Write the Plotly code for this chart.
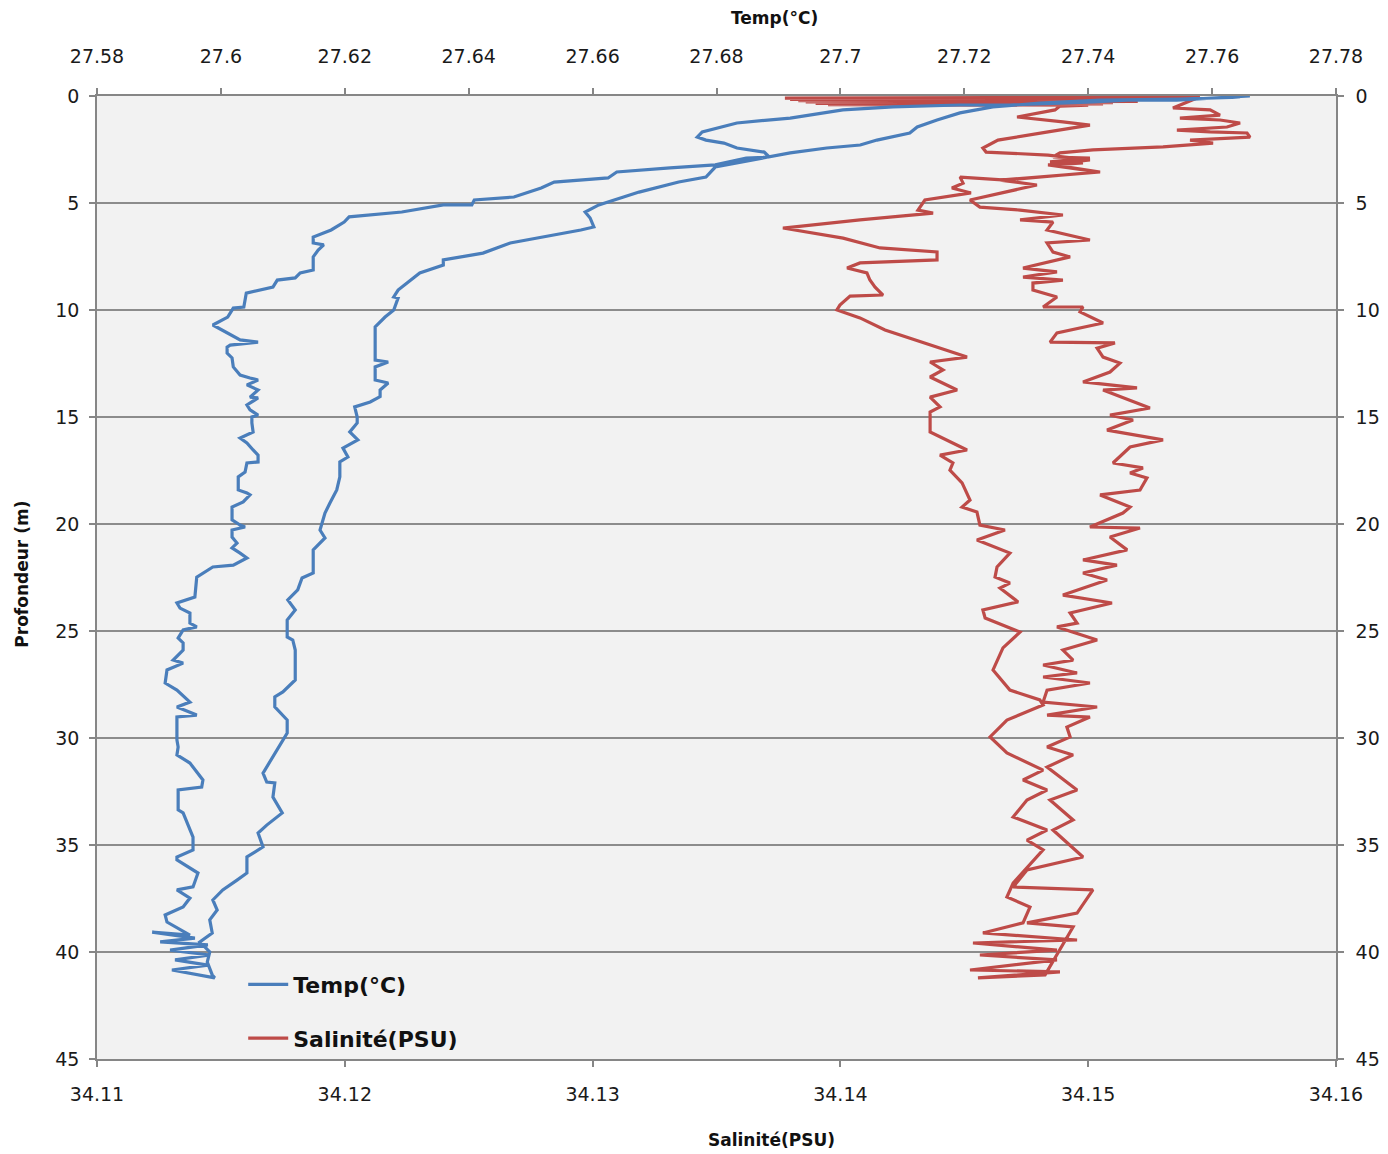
import plotly.graph_objects as go

# ---------------- data ----------------
depth_ticks = [0, 5, 10, 15, 20, 25, 30, 35, 40, 45]
temp_ticks = [27.58, 27.6, 27.62, 27.64, 27.66, 27.68, 27.7, 27.72, 27.74, 27.76, 27.78]
sal_ticks = [34.11, 34.12, 34.13, 34.14, 34.15, 34.16]

temp_depth = [
    0.00, 0.09, 0.19, 0.19, 0.28, 0.33, 0.42, 0.42, 0.51, 0.65, 0.89, 1.03, 1.26, 1.68, 1.92,
    2.06, 2.20, 2.43, 2.62, 2.85, 2.90, 3.22, 3.36, 3.55, 3.83, 4.02, 4.30, 4.72, 4.86, 5.09,
    5.09, 5.42, 5.65, 5.89, 6.26, 6.59, 6.87, 6.96, 7.20, 7.52, 8.13, 8.27, 8.50, 8.60, 8.93,
    9.21, 9.86, 9.91, 10.33, 10.70, 11.40, 11.50, 11.64, 11.73, 12.01, 12.24, 12.66, 13.04,
    13.18, 13.27, 13.50, 13.74, 14.07, 14.11, 14.44, 14.67, 14.91, 15.00, 15.28, 15.70, 15.98,
    16.21, 16.54, 16.78, 17.10, 17.15, 17.57, 17.80, 18.41, 18.55, 18.64, 18.97, 19.21, 19.81,
    20.05, 20.14, 20.28, 20.61, 20.89, 21.12, 21.36, 21.59, 21.92, 22.01, 22.48, 23.41, 23.69,
    23.93, 24.16, 24.63, 24.81, 24.95, 25.33, 25.56, 25.89, 26.36, 26.50, 26.82, 27.43, 27.76,
    28.32, 28.55, 28.93, 29.02, 30.09, 30.42, 30.79, 31.17, 31.96, 32.29, 32.43, 33.36, 33.50,
    34.63, 35.23, 35.56, 35.70, 36.31, 36.96, 37.10, 37.48, 37.90, 38.27, 38.60, 39.21, 39.07,
    39.35, 39.53, 39.67, 39.91, 40.14, 40.37, 40.61, 40.84, 41.21,
    41.07, 40.47, 40.00, 39.53, 39.11, 38.50, 38.04, 37.57, 37.10, 36.64, 36.31, 35.56, 35.09,
    34.44, 34.07, 33.50, 32.76, 32.10, 32.06, 31.64, 30.56, 29.77, 29.16, 28.55, 28.08, 27.85,
    27.29, 25.89, 25.42, 25.28, 24.49, 24.02, 23.55, 23.08, 22.52, 22.29, 21.21, 20.65, 20.28,
    19.49, 19.02, 18.41, 17.80, 17.10, 16.87, 16.45, 16.07, 15.70, 15.28, 15.00, 14.53, 14.30,
    14.05, 13.74, 13.41, 13.27, 12.66, 12.43, 12.34, 10.79, 10.33, 10.00, 9.44, 9.39, 9.07,
    8.74, 8.27, 7.90, 7.66, 7.34, 6.87, 6.26, 6.12, 5.70, 5.42, 5.09, 4.49, 4.02, 3.79, 3.32,
    2.66, 2.43, 2.29, 2.06, 1.73, 1.45, 1.12, 0.79, 0.51, 0.33, 0.19, 0.14, 0.05,
]
temp_values = [
    27.7661, 27.7597, 27.7543, 27.7463, 27.7408, 27.7354, 27.7274, 27.7193, 27.7085, 27.7004,
    27.6951, 27.6919, 27.6833, 27.6777, 27.6769, 27.6783, 27.6812, 27.6833, 27.6877, 27.6885,
    27.6848, 27.6798, 27.6725, 27.6639, 27.6625, 27.6538, 27.6517, 27.6473, 27.6409, 27.6405,
    27.6359, 27.6292, 27.6207, 27.6199, 27.6178, 27.6149, 27.6149, 27.6166, 27.6157, 27.6149,
    27.6149, 27.6128, 27.6120, 27.6091, 27.6084, 27.6041, 27.6037, 27.6020, 27.6011, 27.5987,
    27.6031, 27.6060, 27.6015, 27.6010, 27.6010, 27.6018, 27.6020, 27.6031, 27.6047, 27.6060,
    27.6042, 27.6060, 27.6047, 27.6060, 27.6042, 27.6047, 27.6060, 27.6050, 27.6050, 27.6052,
    27.6031, 27.6042, 27.6052, 27.6060, 27.6060, 27.6042, 27.6039, 27.6028, 27.6028, 27.6042,
    27.6047, 27.6036, 27.6018, 27.6018, 27.6031, 27.6039, 27.6018, 27.6018, 27.6026, 27.6018,
    27.6031, 27.6042, 27.6020, 27.5987, 27.5961, 27.5958, 27.5929, 27.5934, 27.5950, 27.5950,
    27.5961, 27.5939, 27.5931, 27.5939, 27.5939, 27.5923, 27.5939, 27.5913, 27.5910, 27.5929,
    27.5950, 27.5929, 27.5961, 27.5929, 27.5929, 27.5931, 27.5929, 27.5950, 27.5971, 27.5969,
    27.5931, 27.5931, 27.5939, 27.5955, 27.5955, 27.5929, 27.5929, 27.5963, 27.5955, 27.5929,
    27.5950, 27.5939, 27.5910, 27.5913, 27.5950, 27.5889, 27.5958, 27.5902, 27.5979, 27.5918,
    27.5982, 27.5926, 27.5979, 27.5921, 27.5990,
    27.5986, 27.5978, 27.5982, 27.5966, 27.5986, 27.5982, 27.5994, 27.5987, 27.6003, 27.6026,
    27.6042, 27.6042, 27.6068, 27.6060, 27.6074, 27.6099, 27.6084, 27.6087, 27.6074, 27.6068,
    27.6091, 27.6107, 27.6107, 27.6087, 27.6087, 27.6100, 27.6120, 27.6120, 27.6116, 27.6107,
    27.6107, 27.6120, 27.6108, 27.6124, 27.6131, 27.6149, 27.6149, 27.6168, 27.6160, 27.6168,
    27.6176, 27.6187, 27.6192, 27.6192, 27.6205, 27.6197, 27.6221, 27.6208, 27.6220, 27.6220,
    27.6216, 27.6241, 27.6257, 27.6257, 27.6270, 27.6249, 27.6249, 27.6270, 27.6249, 27.6249,
    27.6265, 27.6279, 27.6286, 27.6279, 27.6286, 27.6300, 27.6321, 27.6359, 27.6359, 27.6423,
    27.6467, 27.6581, 27.6602, 27.6596, 27.6588, 27.6610, 27.6675, 27.6739, 27.6783, 27.6798,
    27.6919, 27.6978, 27.7032, 27.7059, 27.7112, 27.7124, 27.7156, 27.7193, 27.7246, 27.7322,
    27.7419, 27.7548, 27.7645,
]

sal_depth = [
    0.05, 0.10, 0.12, 0.16, 0.19, 0.22, 0.25, 0.28, 0.31, 0.34, 0.37, 0.40, 0.43, 0.47, 0.65,
    0.98, 1.21, 1.36, 1.68, 2.06,
    2.43, 2.62, 2.76, 2.99, 3.22, 3.55, 3.93, 3.79, 4.07, 4.30, 4.53, 4.72, 4.86, 5.33, 5.47,
    5.79, 6.17, 6.64, 7.10, 7.29, 7.66, 7.80, 8.04, 8.27, 8.60, 8.93, 9.30, 9.35, 9.77, 10.00,
    10.37, 10.93, 11.40, 12.20, 12.43, 12.80, 13.13, 13.74, 14.07, 14.53, 14.77, 15.70, 16.54,
    16.78, 17.15, 17.48, 18.08, 18.88, 19.21, 19.44, 20.05, 20.28, 20.75, 21.36, 22.01, 22.48,
    22.76, 22.99, 23.64, 24.02, 24.39, 25.05, 25.79, 26.82, 27.76, 28.22, 28.46, 29.16, 29.95,
    30.70, 31.50, 31.96, 32.43, 32.90, 33.69, 34.30, 34.77, 35.23, 36.78, 37.43, 37.90, 38.64,
    39.11, 39.44, 39.58, 39.91, 40.14, 40.37, 40.84, 40.93, 41.21, 41.07,
    38.83, 38.64, 38.18, 37.10, 36.96, 36.17, 35.56, 34.30, 33.83, 32.90, 32.43, 31.36, 30.79,
    30.42, 29.95, 29.49, 29.02, 28.93, 28.55, 28.32, 27.76, 27.43, 27.15, 26.96, 26.59, 26.36,
    25.89, 25.42, 24.81, 24.63, 24.16, 23.69, 23.32, 22.62, 22.29, 21.92, 21.68, 21.21, 20.61,
    20.19, 20.14, 19.49, 19.21, 18.64, 18.41, 17.85, 17.62, 17.38, 17.15, 16.40, 16.07, 15.61,
    15.14, 14.91, 14.58, 14.21, 13.74, 13.64, 13.36, 12.90, 12.48, 12.20, 11.78, 11.54, 11.50,
    11.07, 10.61, 10.09, 9.86, 9.86, 9.39, 9.07, 8.74, 8.60, 8.46, 8.22, 8.04, 7.52, 7.29, 6.87,
    6.73, 6.26, 5.89, 5.79, 5.56, 5.33, 5.19, 4.86, 4.16, 3.93, 3.79, 3.55, 3.22, 3.13, 3.08,
    2.90, 2.85, 2.66, 2.52, 2.38, 2.20, 2.06, 1.92, 1.73, 1.68, 1.59, 1.45, 1.26, 1.12, 1.03,
    0.89, 0.65, 0.56, 0.09,
]
sal_values = [
    34.15451, 34.13776, 34.15300, 34.13797, 34.15100, 34.13830, 34.15200, 34.13860, 34.15100,
    34.13900, 34.15060, 34.13950, 34.15000, 34.14886, 34.14866,
    34.14713, 34.14898, 34.15007, 34.14838, 34.14636, 34.14575, 34.14588, 34.14838,
    34.15007, 34.14838, 34.15040, 34.14668, 34.14483, 34.14495, 34.14450, 34.14527, 34.14406,
    34.14341, 34.14313, 34.14374, 34.14079, 34.13768, 34.14011, 34.14160, 34.14390, 34.14390,
    34.14079, 34.14027, 34.14107, 34.14119, 34.14140, 34.14172, 34.14039, 34.13998, 34.13986,
    34.14079, 34.14180, 34.14301, 34.14511, 34.14362, 34.14414, 34.14362, 34.14471, 34.14362,
    34.14402, 34.14362, 34.14362, 34.14511, 34.14402, 34.14454, 34.14442, 34.14491, 34.14523,
    34.14491, 34.14551, 34.14563, 34.14664, 34.14551, 34.14684, 34.14632, 34.14624, 34.14684,
    34.14644, 34.14717, 34.14575, 34.14584, 34.14725, 34.14656, 34.14616, 34.14684, 34.14805,
    34.14818, 34.14672, 34.14604, 34.14672, 34.14818, 34.14737, 34.14834, 34.14753, 34.14697,
    34.14834, 34.14753, 34.14818, 34.14697, 34.14672, 34.14765, 34.14737, 34.14575, 34.14955,
    34.14535, 34.14874, 34.14563, 34.14874, 34.14523, 34.14886, 34.14555, 34.14826,
    34.14939, 34.14753, 34.14955, 34.15019, 34.14697, 34.14753, 34.14979, 34.14858, 34.14939,
    34.14846, 34.14955, 34.14834, 34.14939, 34.14834, 34.14927, 34.14914, 34.15007, 34.14834,
    34.15036, 34.14818, 34.14834, 34.15007, 34.14818, 34.14955, 34.14818, 34.14939, 34.14898,
    34.15036, 34.14874, 34.14955, 34.14927, 34.15096, 34.14898, 34.15076, 34.14979, 34.15116,
    34.14979, 34.15157, 34.15088, 34.15209, 34.15007, 34.15140, 34.15169, 34.15048, 34.15209,
    34.15237, 34.15169, 34.15221, 34.15100, 34.15169, 34.15302, 34.15076, 34.15181, 34.15088,
    34.15249, 34.15169, 34.15060, 34.15197, 34.14979, 34.15088, 34.15128, 34.15060, 34.15036,
    34.15108, 34.14846, 34.14874, 34.15060, 34.14967, 34.14979, 34.14818, 34.14874, 34.14777,
    34.14777, 34.14898, 34.14737, 34.14874, 34.14737, 34.14927, 34.14858, 34.14834, 34.15007,
    34.14834, 34.14858, 34.14725, 34.14898, 34.14725, 34.14563, 34.14523, 34.14793, 34.14644,
    34.14793, 34.15048, 34.14858, 34.14979, 34.14846, 34.15007, 34.14858, 34.14886, 34.15019,
    34.15302, 34.15504, 34.15411, 34.15653, 34.15641, 34.15492, 34.15358, 34.15560, 34.15613,
    34.15532, 34.15370, 34.15532, 34.15492, 34.15342, 34.15439,
]

# ---------------- figure ----------------
BLUE = "#4a7ebb"
RED = "#be4b48"
AXIS = "#868686"
GRID = "#8c8c8c"
FONT = "DejaVu Sans"

fig = go.Figure()
fig.add_trace(go.Scatter(
    x=temp_values, y=temp_depth, xaxis="x2", yaxis="y2", mode="lines",
    name="Temp(°C)", line=dict(color=BLUE, width=3.2), legendgroup="t", legendrank=1,
))
fig.add_trace(go.Scatter(
    x=sal_values, y=sal_depth, xaxis="x", yaxis="y", mode="lines",
    name="Salinité(PSU)", line=dict(color=RED, width=3.2), legendgroup="s", legendrank=2,
))

common_axis = dict(
    showline=True, linecolor=AXIS, linewidth=1.5, ticks="outside", ticklen=6,
    tickcolor=AXIS, tickwidth=1.5, zeroline=False,
    tickfont=dict(family=FONT, size=19, color="#1a1a1a"),
)

fig.update_layout(
    width=1388, height=1154,
    margin=dict(l=97, r=52, t=96, b=95, autoexpand=False),
    paper_bgcolor="white", plot_bgcolor="#f2f2f2",
    showlegend=True,
    legend=dict(
        x=0.118, y=0.099, xanchor="left", yanchor="top",
        bgcolor="rgba(0,0,0,0)",
        font=dict(family=FONT, size=22, color="#111111", weight="bold"),
        tracegroupgap=22, traceorder="grouped", itemwidth=40,
    ),
    xaxis=dict(
        range=[34.11, 34.16], tickvals=sal_ticks, ticktext=[str(v) for v in sal_ticks],
        showgrid=False, side="bottom", ticklabelstandoff=11, **common_axis,
    ),
    xaxis2=dict(
        range=[27.58, 27.78], tickvals=temp_ticks, ticktext=[str(v) for v in temp_ticks],
        showgrid=False, side="top", overlaying="x", ticklabelstandoff=18, **common_axis,
    ),
    yaxis=dict(
        range=[45, 0], tickvals=depth_ticks, ticktext=[str(v) for v in depth_ticks],
        showgrid=True, gridcolor=GRID, gridwidth=1.6, side="left", ticklabelstandoff=6,
        **common_axis,
    ),
    yaxis2=dict(
        range=[45, 0], tickvals=depth_ticks, ticktext=[str(v) for v in depth_ticks],
        showgrid=False, side="right", overlaying="y", ticklabelstandoff=8, **common_axis,
    ),
    annotations=[
        dict(text="<b>Temp(°C)</b>", xref="paper", yref="paper", x=0.547, y=1.081,
             xanchor="center", yanchor="middle",
             showarrow=False, font=dict(family=FONT, size=17, color="#111111")),
        dict(text="<b>Salinité(PSU)</b>", xref="paper", yref="paper", x=0.544, y=-0.084,
             xanchor="center", yanchor="middle",
             showarrow=False, font=dict(family=FONT, size=17, color="#111111")),
        dict(text="<b>Profondeur (m)</b>", xref="paper", yref="paper", x=-0.0605, y=0.503,
             xanchor="center", yanchor="middle", textangle=-90,
             showarrow=False, font=dict(family=FONT, size=17, color="#111111")),
    ],
)

fig.write_html(
    "out.html",
    config={"displayModeBar": False},
    post_script="document.body.style.margin='0';",
)
